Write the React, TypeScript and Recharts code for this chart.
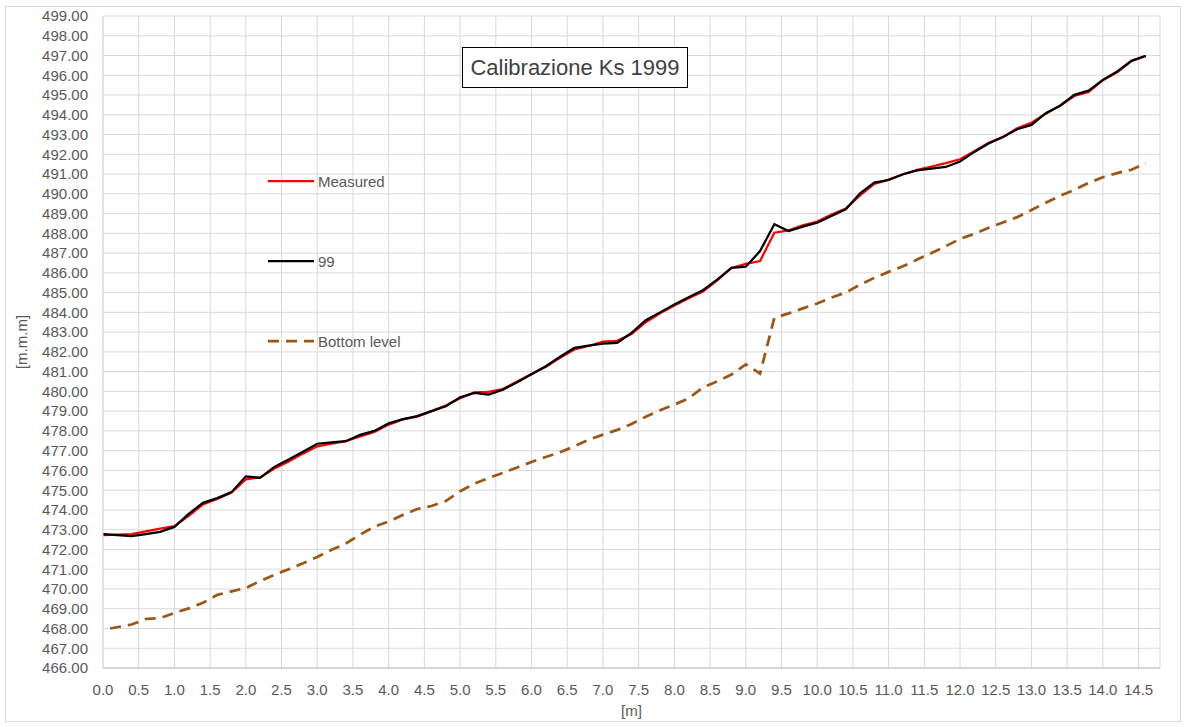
import React from 'react';
import { LineChart, Line, XAxis, YAxis, CartesianGrid } from 'recharts';

// distance along the reach [m]
const xs = [
  0, 0.2, 0.4, 0.6, 0.8, 1, 1.2, 1.4, 1.6, 1.8, 2, 2.2, 2.4, 2.6, 2.8, 3, 3.2, 3.4, 3.6, 3.8,
  4, 4.2, 4.4, 4.6, 4.8, 5, 5.2, 5.4, 5.6, 5.8, 6, 6.2, 6.4, 6.6, 6.8, 7, 7.2, 7.4, 7.6, 7.8,
  8, 8.2, 8.4, 8.6, 8.8, 9, 9.2, 9.4, 9.6, 9.8, 10, 10.2, 10.4, 10.6, 10.8, 11, 11.2, 11.4, 11.6, 11.8,
  12, 12.2, 12.4, 12.6, 12.8, 13, 13.2, 13.4, 13.6, 13.8, 14, 14.2, 14.4, 14.6,
];

const measured = [
  472.72, 472.75, 472.78, 472.92, 473.05, 473.18, 473.7, 474.28, 474.55, 474.88, 475.55, 475.65, 476.1, 476.45, 476.85, 477.22, 477.35, 477.48, 477.72, 477.95,
  478.32, 478.58, 478.72, 479.0, 479.28, 479.65, 479.95, 479.98, 480.12, 480.5, 480.88, 481.25, 481.7, 482.12, 482.3, 482.52, 482.56, 482.9, 483.5, 483.95,
  484.35, 484.72, 485.05, 485.62, 486.25, 486.45, 486.6, 488.03, 488.15, 488.4, 488.6, 488.95, 489.25, 489.92, 490.5, 490.72, 490.98, 491.22, 491.38, 491.55,
  491.75, 492.15, 492.58, 492.88, 493.32, 493.6, 494.05, 494.45, 494.95, 495.15, 495.75, 496.15, 496.72, 496.97,
];

const sim99 = [
  472.77, 472.72, 472.67, 472.78, 472.89, 473.14, 473.8, 474.36, 474.6, 474.9, 475.7, 475.62, 476.18, 476.55, 476.95, 477.35, 477.42, 477.48, 477.8, 478.0,
  478.38, 478.6, 478.75, 479.0, 479.25, 479.7, 479.92, 479.84, 480.09, 480.46, 480.87, 481.27, 481.75, 482.2, 482.32, 482.42, 482.46, 482.96, 483.6, 484.0,
  484.4, 484.77, 485.12, 485.66, 486.25, 486.31, 487.1, 488.46, 488.12, 488.34, 488.54, 488.88, 489.22, 490.03, 490.57, 490.7, 490.99, 491.19, 491.27, 491.36,
  491.63, 492.12, 492.55, 492.87, 493.27, 493.49, 494.08, 494.46, 495.01, 495.22, 495.77, 496.19, 496.73, 496.99,
];

const bottomXs = [
  0.1, 0.4, 0.6, 0.8, 1, 1.2, 1.4, 1.6, 1.8, 2, 2.2, 2.4, 2.6, 2.8, 3, 3.2, 3.4, 3.6, 3.8,
  4, 4.2, 4.4, 4.6, 4.8, 5, 5.2, 5.4, 5.6, 5.8, 6, 6.2, 6.4, 6.6, 6.8, 7, 7.2, 7.4, 7.6, 7.8,
  8, 8.2, 8.4, 8.6, 8.8, 9, 9.2, 9.4, 9.6, 9.8, 10, 10.2, 10.4, 10.6, 10.8, 11, 11.2, 11.4, 11.6, 11.8,
  12, 12.2, 12.4, 12.6, 12.8, 13, 13.2, 13.4, 13.6, 13.8, 14, 14.2, 14.4, 14.6,
];

const bottomLevel = [
  468.0, 468.2, 468.48, 468.52, 468.79, 469.02, 469.3, 469.7, 469.88, 470.05, 470.4, 470.72, 471.0, 471.3, 471.62, 471.98, 472.3, 472.75, 473.15,
  473.42, 473.75, 474.05, 474.2, 474.45, 474.95, 475.33, 475.62, 475.88, 476.15, 476.43, 476.68, 476.92, 477.22, 477.55, 477.81, 478.05, 478.35, 478.72, 479.05,
  479.33, 479.65, 480.2, 480.5, 480.85, 481.37, 480.9, 483.72, 483.95, 484.2, 484.45, 484.75, 485.0, 485.4, 485.75, 486.05, 486.33, 486.67, 487.0, 487.35,
  487.72, 487.97, 488.28, 488.55, 488.82, 489.18, 489.55, 489.9, 490.2, 490.55, 490.84, 491.05, 491.22, 491.55,
];

const xTicks = [
  0, 0.5, 1, 1.5, 2, 2.5, 3, 3.5, 4, 4.5, 5, 5.5, 6, 6.5, 7, 7.5, 8, 8.5, 9, 9.5,
  10, 10.5, 11, 11.5, 12, 12.5, 13, 13.5, 14, 14.5,
];

const yTicks = [
  466, 467, 468, 469, 470, 471, 472, 473, 474, 475, 476, 477, 478, 479, 480, 481, 482,
  483, 484, 485, 486, 487, 488, 489, 490, 491, 492, 493, 494, 495, 496, 497, 498, 499,
];

const legendItems = [
  { name: 'Measured', color: '#ff0000', dash: undefined, top: 181 },
  { name: '99', color: '#000000', dash: undefined, top: 261 },
  { name: 'Bottom level', color: '#9c5716', dash: '11 7', top: 341 },
];

const measuredRows = xs.map((x, i) => ({ x, y: measured[i] }));
const simRows = xs.map((x, i) => ({ x, y: sim99[i] }));
const bottomRows = bottomXs.map((x, i) => ({ x, y: bottomLevel[i] }));

const FONT = '"Liberation Sans", Arial, sans-serif';
const tickStyle = { fill: '#595959', fontSize: 15, fontFamily: FONT };

export default function App() {
  return (
    <div style={{ position: 'absolute', left: 0, top: 0, width: 1186, height: 727, background: '#fff', fontFamily: FONT }}>
      <div style={{ position: 'absolute', left: 5, top: 6, width: 1176, height: 716, border: '1px solid #d9d9d9', boxSizing: 'border-box' }} />
      <LineChart width={1186} height={727} margin={{ top: 16, right: 26, bottom: 0, left: 0 }}>
        <CartesianGrid stroke="#d9d9d9" strokeWidth={1} />
        <XAxis
          type="number"
          dataKey="x"
          domain={[0, 14.8]}
          ticks={xTicks}
          interval={0}
          allowDecimals
          tickFormatter={(v: number) => v.toFixed(1)}
          tick={tickStyle}
          tickLine={false}
          tickSize={0}
          tickMargin={16}
          axisLine={{ stroke: '#bfbfbf' }}
          height={59}
          label={{ value: '[m]', position: 'insideBottom', offset: 11, style: { fill: '#595959', fontSize: 15, fontFamily: FONT } }}
        />
        <YAxis
          type="number"
          domain={[466, 499]}
          ticks={yTicks}
          interval={0}
          tickFormatter={(v: number) => v.toFixed(2)}
          tick={tickStyle}
          tickLine={false}
          tickSize={0}
          tickMargin={15}
          axisLine={{ stroke: '#d9d9d9' }}
          width={103}
          label={{ value: '[m.m.m]', angle: -90, position: 'insideLeft', offset: 22, style: { fill: '#595959', fontSize: 15, fontFamily: FONT, textAnchor: 'middle' } }}
        />
        <Line data={measuredRows} dataKey="y" name="Measured" stroke="#ff0000" strokeWidth={2.25} dot={false} activeDot={false} isAnimationActive={false} />
        <Line data={simRows} dataKey="y" name="99" stroke="#000000" strokeWidth={2.25} dot={false} activeDot={false} isAnimationActive={false} />
        <Line data={bottomRows} dataKey="y" name="Bottom level" stroke="#9c5716" strokeWidth={2.75} strokeDasharray="11 7" dot={false} activeDot={false} isAnimationActive={false} />
      </LineChart>

      <div style={{ position: 'absolute', left: 462, top: 47, width: 226, height: 41, border: '1px solid #000', boxSizing: 'border-box', background: '#fff', display: 'flex', alignItems: 'center', justifyContent: 'center', fontSize: 22, color: '#404040' }}>
        Calibrazione Ks 1999
      </div>

      {legendItems.map((item) => (
        <div key={item.name} style={{ position: 'absolute', left: 268, top: item.top - 10, height: 20, display: 'flex', alignItems: 'center' }}>
          <svg width={46} height={20}>
            <line x1={0} y1={10} x2={46} y2={10} stroke={item.color} strokeWidth={item.dash ? 2.75 : 2.25} strokeDasharray={item.dash} />
          </svg>
          <span style={{ marginLeft: 4, fontSize: 15, color: '#595959' }}>{item.name}</span>
        </div>
      ))}
    </div>
  );
}
